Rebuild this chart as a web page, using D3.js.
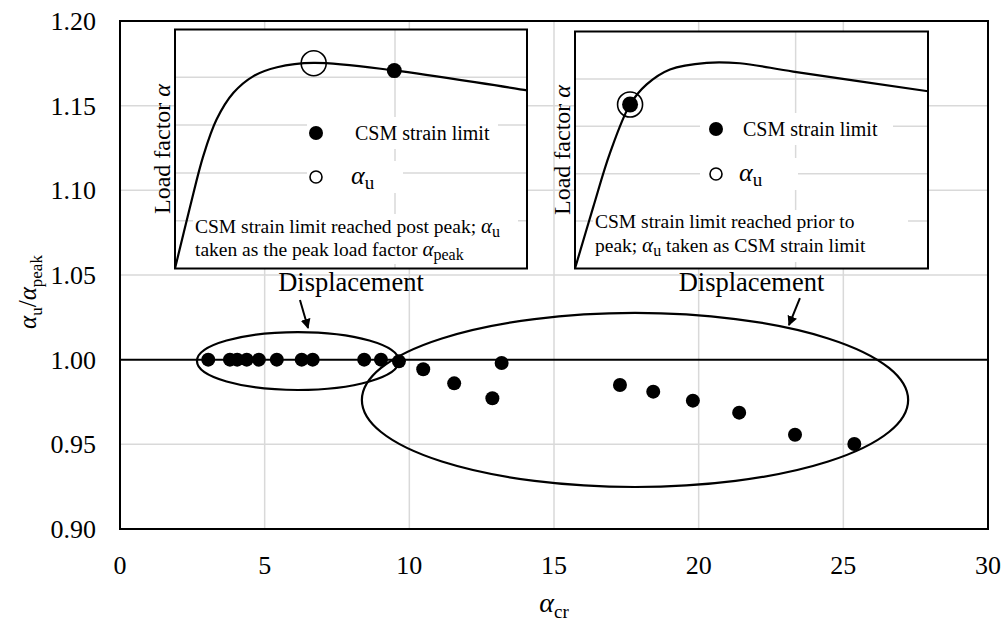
<!DOCTYPE html>
<html><head><meta charset="utf-8">
<script src="https://cdn.jsdelivr.net/npm/d3@7"></script>
<style>body{margin:0;background:#fff} text{font-family:"Liberation Serif","Times New Roman",serif;fill:#000}</style>
</head><body><svg id="c" width="1005" height="628"></svg>
<script>
// ---- main data ----
const alphaCr = [3.05, 3.80, 4.05, 4.38, 4.80, 5.42, 6.28, 6.66, 8.44, 9.02, 9.64, 10.48, 11.55, 12.87, 13.19, 17.28, 18.43, 19.80, 21.40, 23.33, 25.38];
const ratio   = [1.000, 1.000, 1.000, 1.000, 1.000, 1.000, 1.000, 1.000, 1.000, 1.000, 0.999, 0.9943, 0.986, 0.9772, 0.998, 0.985, 0.9811, 0.9758, 0.9687, 0.9557, 0.9502];
const xTicks = [0, 5, 10, 15, 20, 25, 30];
const yTicks = [0.90, 0.95, 1.00, 1.05, 1.10, 1.15, 1.20];
const xTickLabels = ["0", "5", "10", "15", "20", "25", "30"];
const yTickLabels = ["0.90", "0.95", "1.00", "1.05", "1.10", "1.15", "1.20"];
// ---- annotation groups (data units) ----
const ellipseCx = [6.15, 17.80];
const ellipseCy = [0.9992, 0.9762];
const ellipseRx = [3.49, 9.44];
const ellipseRy = [0.0171, 0.0514];
const arrowFromX = [6.22, 23.50], arrowFromY = [1.0352, 1.0364];
const arrowToX   = [6.50, 23.12], arrowToY   = [1.0187, 1.0204];
// ---- inset curves (normalised displacement / load factor) ----
const inset1Disp = [0, 0.043, 0.080, 0.118, 0.166, 0.223, 0.290, 0.394, 0.621, 1.0];
const inset1Load = [0, 0.259, 0.469, 0.623, 0.735, 0.805, 0.842, 0.860, 0.829, 0.745];
const inset2Disp = [0, 0.052, 0.099, 0.156, 0.203, 0.269, 0.373, 0.467, 0.618, 1.0];
const inset2Load = [0, 0.261, 0.487, 0.692, 0.777, 0.840, 0.868, 0.866, 0.831, 0.748];
const inset1Open = [0.394, 0.859], inset1Fill = [0.623, 0.828];
const inset2Open = [0.156, 0.692], inset2Fill = [0.156, 0.692];
const insetGridY = [0.2, 0.4, 0.6, 0.8];
const insetGridX = [0.625];

const svg = d3.select("#c");
svg.append("rect").attr("width",1005).attr("height",628).attr("fill","#fff");
const M = {l:120, r:988, t:21, b:529};
const x = d3.scaleLinear().domain([0,30]).range([M.l,M.r]);
const y = d3.scaleLinear().domain([0.9,1.2]).range([M.b,M.t]);
const grid = "#d9d9d9";

// gridlines
svg.append("g").selectAll("line").data(xTicks.slice(1,-1)).join("line")
  .attr("x1",d=>x(d)).attr("x2",d=>x(d)).attr("y1",M.t).attr("y2",M.b)
  .attr("stroke",grid).attr("stroke-width",1.5);
svg.append("g").selectAll("line").data(yTicks.filter(d=>d>0.9 && d<1.2 && Math.abs(d-1)>1e-9)).join("line")
  .attr("x1",M.l).attr("x2",M.r).attr("y1",d=>y(d)).attr("y2",d=>y(d))
  .attr("stroke",grid).attr("stroke-width",1.5);
// 1.00 reference line
svg.append("line").attr("x1",M.l).attr("x2",M.r).attr("y1",y(1)).attr("y2",y(1))
  .attr("stroke","#000").attr("stroke-width",2);

// tick labels (serif)
svg.append("g").selectAll("text").data(yTicks).join("text")
  .attr("x",M.l-24).attr("y",d=>y(d)).attr("dy","0.34em").attr("text-anchor","end")
  .attr("font-size",26).text((d,i)=>yTickLabels[i]);
svg.append("g").selectAll("text").data(xTicks).join("text")
  .attr("x",d=>x(d)).attr("y",M.b+45).attr("text-anchor","middle")
  .attr("font-size",26).text((d,i)=>xTickLabels[i]);

// plot frame
svg.append("rect").attr("x",M.l).attr("y",M.t).attr("width",M.r-M.l).attr("height",M.b-M.t)
  .attr("fill","none").attr("stroke","#000").attr("stroke-width",2);

// axis titles
const xt = svg.append("text").attr("x",x(15)).attr("y",612).attr("text-anchor","middle");
xt.append("tspan").attr("font-style","italic").attr("font-size",28).text("α");
xt.append("tspan").attr("font-size",19).attr("dy",6).text("cr");
const yt = svg.append("text").attr("transform",`translate(36,292) rotate(-90)`).attr("text-anchor","middle");
yt.append("tspan").attr("font-style","italic").attr("font-size",25).text("α");
yt.append("tspan").attr("font-size",17).attr("dy",6).text("u");
yt.append("tspan").attr("font-size",25).attr("dy",-6).text("/");
yt.append("tspan").attr("font-style","italic").attr("font-size",25).text("α");
yt.append("tspan").attr("font-size",17).attr("dy",6).text("peak");

// ellipses
const ell = d3.range(ellipseCx.length);
svg.append("g").selectAll("ellipse").data(ell).join("ellipse")
  .attr("cx",i=>x(ellipseCx[i])).attr("cy",i=>y(ellipseCy[i]))
  .attr("rx",i=>x(ellipseRx[i])-x(0)).attr("ry",i=>y(1-ellipseRy[i])-y(1))
  .attr("fill","none").attr("stroke","#000").attr("stroke-width",2.2);

// points
svg.append("g").selectAll("circle").data(alphaCr.map((d,i)=>[d,ratio[i]])).join("circle")
  .attr("cx",d=>x(d[0])).attr("cy",d=>y(d[1])).attr("r",7).attr("fill","#000");

// arrows
svg.append("defs").append("marker").attr("id","ah").attr("viewBox","0 0 10 10")
  .attr("refX",9).attr("refY",5).attr("markerWidth",5).attr("markerHeight",5)
  .attr("orient","auto").attr("markerUnits","strokeWidth")
  .append("path").attr("d","M0,0L10,5L0,10Z").attr("fill","#000");
svg.append("g").selectAll("line").data(d3.range(arrowFromX.length)).join("line")
  .attr("x1",i=>x(arrowFromX[i])).attr("y1",i=>y(arrowFromY[i]))
  .attr("x2",i=>x(arrowToX[i])).attr("y2",i=>y(arrowToY[i]))
  .attr("stroke","#000").attr("stroke-width",2).attr("marker-end","url(#ah)");

// insets
function inl(sel, txt){ sel.append("tspan").text(txt); }
function inlA(sel, sub, size, subSize, shift, after){
  sel.append("tspan").attr("font-style","italic").attr("font-size",size).text("α");
  sel.append("tspan").attr("font-size",subSize).attr("dy",shift).text(sub);
  if (after) sel.append("tspan").attr("dy",-shift).text(after);
}
function drawInset(cfg){
  const g = svg.append("g");
  const ix = d3.scaleLinear().domain([0,1]).range([cfg.x0,cfg.x1]);
  const iy = d3.scaleLinear().domain([0,1]).range([cfg.y1,cfg.y0]);
  g.append("rect").attr("x",cfg.x0).attr("y",cfg.y0).attr("width",cfg.x1-cfg.x0).attr("height",cfg.y1-cfg.y0).attr("fill","#fff");
  g.selectAll(".gy").data(insetGridY).join("line").attr("x1",cfg.x0).attr("x2",cfg.x1)
    .attr("y1",d=>iy(d)).attr("y2",d=>iy(d)).attr("stroke",grid).attr("stroke-width",1.5);
  g.selectAll(".gx").data(insetGridX).join("line").attr("y1",cfg.y0).attr("y2",cfg.y1)
    .attr("x1",d=>ix(d)).attr("x2",d=>ix(d)).attr("stroke",grid).attr("stroke-width",1.5);
  cfg.blanks.forEach(b=>g.append("rect").attr("x",b[0]).attr("y",b[1]).attr("width",b[2]).attr("height",b[3]).attr("fill","#fff"));
  const line = d3.line().x(d=>ix(d[0])).y(d=>iy(d[1])).curve(d3.curveCatmullRom.alpha(0.5));
  g.append("path").datum(cfg.disp.map((d,i)=>[d,cfg.load[i]])).attr("d",line)
    .attr("fill","none").attr("stroke","#000").attr("stroke-width",2.2);
  g.append("circle").attr("cx",ix(cfg.fill[0])).attr("cy",iy(cfg.fill[1])).attr("r",cfg.fillR).attr("fill","#000");
  g.append("circle").attr("cx",ix(cfg.open[0])).attr("cy",iy(cfg.open[1])).attr("r",12.5)
    .attr("fill","none").attr("stroke","#000").attr("stroke-width",1.6);
  // legend
  g.append("circle").attr("cx",cfg.legX).attr("cy",cfg.legY1).attr("r",7).attr("fill","#000");
  g.append("circle").attr("cx",cfg.legX).attr("cy",cfg.legY2).attr("r",6).attr("fill","#fff").attr("stroke","#000").attr("stroke-width",1.6);
  g.append("text").attr("x",cfg.legTX).attr("y",cfg.legY1+7).attr("font-size",20).text("CSM strain limit");
  const au = g.append("text").attr("x",cfg.legTX-4).attr("y",cfg.legY2+7);
  inlA(au,"u",26,19,5);
  // caption
  const c1 = g.append("text").attr("x",cfg.x0+20).attr("y",cfg.cap1Y).attr("font-size",19.5);
  cfg.cap1(c1);
  const c2 = g.append("text").attr("x",cfg.x0+20).attr("y",cfg.cap2Y).attr("font-size",19.5);
  cfg.cap2(c2);
  g.append("rect").attr("x",cfg.x0).attr("y",cfg.y0).attr("width",cfg.x1-cfg.x0).attr("height",cfg.y1-cfg.y0)
    .attr("fill","none").attr("stroke","#000").attr("stroke-width",2);
  // outside labels
  const yl = g.append("text").attr("transform",`translate(${cfg.x0-5},${(cfg.y0+cfg.y1)/2}) rotate(-90)`)
    .attr("text-anchor","middle").attr("font-size",24);
  yl.append("tspan").text("Load factor ");
  yl.append("tspan").attr("font-style","italic").text("α");
  g.append("text").attr("x",(cfg.x0+cfg.x1)/2).attr("y",cfg.y1+22).attr("text-anchor","middle")
    .attr("font-size",26.5).text("Displacement");
}
drawInset({x0:175, x1:527, y0:29.5, y1:268.5, disp:inset1Disp, load:inset1Load,
  open:inset1Open, fill:inset1Fill, fillR:7.5,
  legX:316, legY1:133, legY2:177, legTX:355,
  blanks:[[307,117,191,32],[307,161,96,32],[193,214,325,50]],
  cap1Y:233, cap2Y:256,
  cap1:s=>{inl(s,"CSM strain limit reached post peak; "); inlA(s,"u",21,16,4);},
  cap2:s=>{inl(s,"taken as the peak load factor "); inlA(s,"peak",21,16,4);}
});
drawInset({x0:575, x1:928, y0:31.5, y1:268.5, disp:inset2Disp, load:inset2Load,
  open:inset2Open, fill:inset2Fill, fillR:8,
  legX:716, legY1:129, legY2:174, legTX:743,
  blanks:[[700,113,193,32],[700,158,98,32],[593,210,315,52]],
  cap1Y:228, cap2Y:252,
  cap1:s=>{inl(s,"CSM strain limit reached prior to");},
  cap2:s=>{inl(s,"peak; "); inlA(s,"u",21,16,4," taken as CSM strain limit");}
});
</script></body></html>
